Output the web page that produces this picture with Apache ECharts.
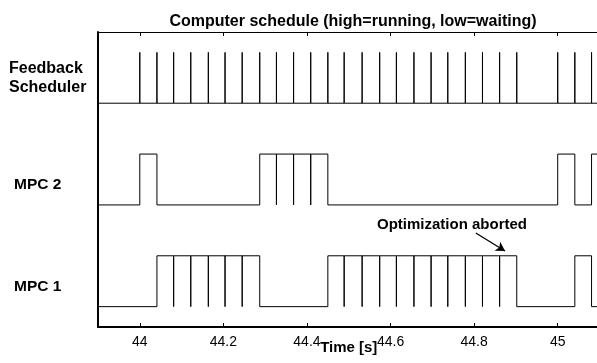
<!DOCTYPE html>
<html>
<head>
<meta charset="utf-8">
<script src="https://cdn.jsdelivr.net/npm/echarts@6/dist/echarts.min.js"></script>
<style>
  html, body { margin: 0; padding: 0; background: #fff; }
  #chart { width: 597px; height: 363px; }
</style>
</head>
<body>
<div id="chart"></div>
<script>
// Time window and labelled ticks (seconds)
const timeMin = 43.9;
const timeMax = 45.1;
const timeTicks = [44, 44.2, 44.4, 44.6, 44.8, 45];

// Rows, bottom to top: baseline level of each trace and where its name sits
const rowNames = ['MPC 1', 'MPC 2', 'Feedback\nScheduler'];
const rowBase = [0, 1, 2];
const rowLabelAt = [0.2, 1.2, 2.25];
const pulseHeight = 0.5;

// Instants at which the feedback scheduler runs
const schedulerRuns = [
  44.000, 44.041, 44.081, 44.122, 44.164, 44.204, 44.245, 44.287,
  44.327, 44.368, 44.409, 44.450, 44.489, 44.532, 44.574, 44.614,
  44.656, 44.697, 44.737, 44.779, 44.820, 44.861, 44.902,
  45.000, 45.041, 45.081
];

// Intervals during which each MPC task holds the processor
const mpc2Running = [[44.000, 44.041], [44.287, 44.450], [45.000, 45.041], [45.081, 45.1]];
const mpc1Running = [[44.041, 44.287], [44.450, 44.902], [45.041, 45.081]];

// Annotation (data coordinates)
const abortLabel = 'Optimization aborted';
const abortLabelAt = [44.747, 0.80];
const abortArrowFrom = [44.804, 0.724];
const abortArrowTo = [44.874, 0.547];

const FONT = '"Liberation Sans", Arial, Helvetica, sans-serif';

// Feedback scheduler: short spikes from the low level
function schedulerTrace(base) {
  const pts = [[timeMin, base]];
  schedulerRuns.forEach(t => {
    pts.push([t, base], [t, base + pulseHeight], [t, base]);
  });
  pts.push([timeMax, base]);
  return pts;
}

// MPC task: high while running, dropping to low each time the scheduler runs
function taskTrace(base, runs) {
  const hi = base + pulseHeight;
  const pts = [[timeMin, base]];
  let low = true;
  runs.forEach(([a, b]) => {
    pts.push([a, base], [a, hi]);
    schedulerRuns.forEach(t => {
      if (t > a + 0.003 && t < b - 0.003) pts.push([t, hi], [t, base], [t, hi]);
    });
    pts.push([b, hi]);
    if (b < timeMax) { pts.push([b, base]); low = true; } else { low = false; }
  });
  if (low) pts.push([timeMax, base]);
  return pts;
}

const traceStyle = {
  type: 'line',
  showSymbol: false,
  symbol: 'none',
  silent: true,
  lineStyle: { color: '#000', width: 1 },
  animation: false
};

const chart = echarts.init(document.getElementById('chart'), null, { renderer: 'canvas' });

chart.setOption({
  animation: false,
  backgroundColor: '#fff',
  title: {
    text: 'Computer schedule (high=running, low=waiting)',
    left: 348,
    textAlign: 'center',
    top: 9,
    textStyle: { fontFamily: FONT, fontSize: 16, fontWeight: 'bold', color: '#000' }
  },
  grid: { left: 98, top: 32, right: -2.5, bottom: 36, containLabel: false, outerBoundsMode: 'none' },
  xAxis: [
    {
      type: 'value',
      position: 'bottom',
      min: timeMin,
      max: timeMax,
      name: 'Time [s]',
      nameLocation: 'middle',
      nameGap: 13,
      nameMoveOverlap: false,
      nameTextStyle: { fontFamily: FONT, fontSize: 15, fontWeight: 'bold', color: '#000' },
      axisLine: { show: true, onZero: false, lineStyle: { color: '#000', width: 2 } },
      axisTick: { show: true, inside: true, length: 4, customValues: timeTicks, lineStyle: { color: '#000' } },
      axisLabel: {
        customValues: timeTicks,
        margin: 8,
        formatter: v => String(Math.round(v * 10) / 10),
        fontFamily: FONT, fontSize: 14, color: '#000'
      },
      splitLine: { show: false }
    },
    {
      type: 'value',
      position: 'top',
      min: timeMin,
      max: timeMax,
      axisLine: { show: true, onZero: false, lineStyle: { color: '#000', width: 1 } },
      axisTick: { show: true, inside: true, length: 4, customValues: timeTicks, lineStyle: { color: '#000' } },
      axisLabel: { show: false },
      splitLine: { show: false }
    }
  ],
  yAxis: {
    type: 'value',
    min: -0.2,
    max: 2.7,
    axisLine: { show: true, onZero: false, lineStyle: { color: '#000', width: 2 } },
    axisTick: { show: false },
    splitLine: { show: false },
    axisLabel: {
      customValues: rowLabelAt,
      align: 'left',
      margin: 89,
      formatter: v => {
        let i = 0;
        rowLabelAt.forEach((p, k) => { if (Math.abs(p - v) < Math.abs(rowLabelAt[i] - v)) i = k; });
        const name = rowNames[i];
        if (name.indexOf('\n') >= 0) return name.split('\n').map(s => '{fs|' + s + '}').join('\n');
        return '{mpc|' + name + '}';
      },
      rich: {
        fs: { fontFamily: FONT, fontSize: 16, fontWeight: 'bold', color: '#000', lineHeight: 19 },
        mpc: { fontFamily: FONT, fontSize: 15.5, fontWeight: 'bold', color: '#000', padding: [0, 0, 0, 5] }
      }
    }
  },
  series: [
    Object.assign({ name: rowNames[2], data: schedulerTrace(rowBase[2]) }, traceStyle),
    Object.assign({ name: rowNames[1], data: taskTrace(rowBase[1], mpc2Running) }, traceStyle),
    Object.assign({
      name: rowNames[0],
      data: taskTrace(rowBase[0], mpc1Running),
      markLine: {
        silent: true,
        animation: false,
        symbol: ['none', 'arrow'],
        symbolSize: [8, 9],
        lineStyle: { color: '#000', width: 1.3, type: 'solid' },
        label: { show: false },
        data: [[{ coord: abortArrowFrom }, { coord: abortArrowTo }]]
      },
      markPoint: {
        silent: true,
        animation: false,
        symbol: 'circle',
        symbolSize: 1,
        itemStyle: { color: 'rgba(0,0,0,0)' },
        label: {
          show: true,
          position: 'inside',
          formatter: abortLabel,
          fontFamily: FONT, fontSize: 15, fontWeight: 'bold', color: '#000'
        },
        data: [{ coord: abortLabelAt }]
      }
    }, traceStyle)
  ]
});
</script>
</body>
</html>
